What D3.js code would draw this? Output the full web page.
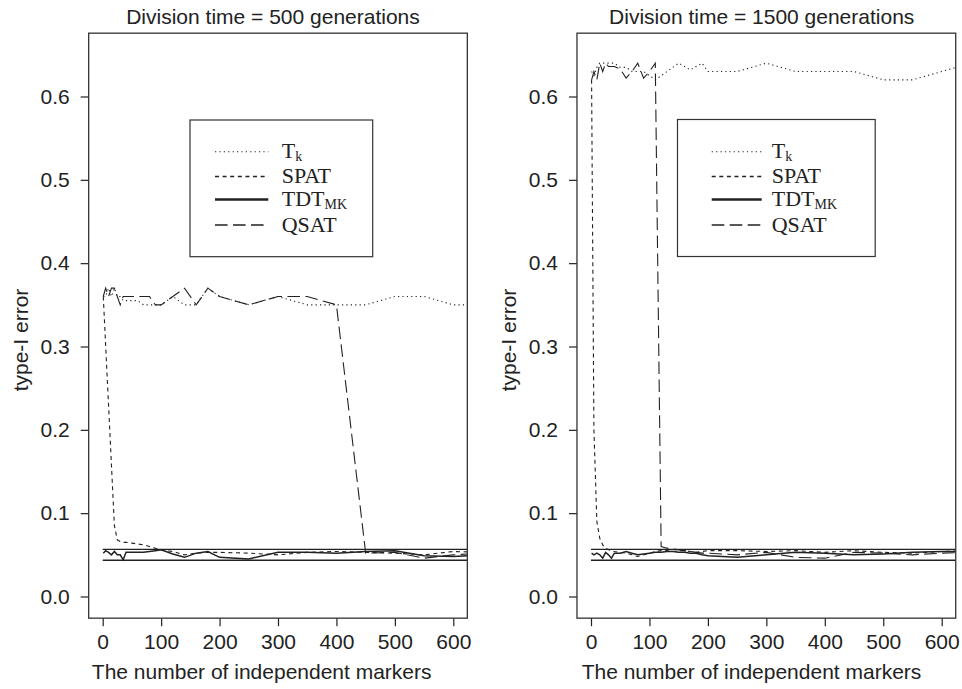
<!DOCTYPE html>
<html>
<head>
<meta charset="utf-8">
<script src="https://cdn.jsdelivr.net/npm/d3@7"></script>
<style>
  html, body { margin: 0; padding: 0; background: #fff; }
  svg { display: block; }
</style>
</head>
<body>
<div id="chart"></div>
<script>
// ---------------- DATA ----------------
const xTicks = [0, 100, 200, 300, 400, 500, 600];
const yTicks = [0.0, 0.1, 0.2, 0.3, 0.4, 0.5, 0.6];
const bandLines = [0.0435, 0.0565];
const seriesNames = ["T", "SPAT", "TDT", "QSAT"];
const seriesSubs = ["k", "", "MK", ""];

// Left panel: division time = 500 generations
const xLeft = [1, 5, 10, 15, 20, 25, 30, 35, 40, 50, 60, 70, 80, 90, 100, 120, 140, 160, 180, 200, 250, 300, 350, 400, 450, 500, 550, 600, 650];
const tkLeft   = [0.36, 0.36, 0.37, 0.36, 0.37, 0.36, 0.36, 0.355, 0.355, 0.355, 0.355, 0.35, 0.35, 0.35, 0.35, 0.36, 0.35, 0.35, 0.37, 0.36, 0.35, 0.36, 0.35, 0.35, 0.35, 0.36, 0.36, 0.35, 0.35];
const spatLeft = [0.36, null, null, null, 0.085, 0.068, 0.066, 0.065, 0.065, 0.064, 0.063, 0.062, 0.06, 0.058, 0.056, 0.054, 0.05, 0.052, 0.053, 0.053, 0.052, 0.05, 0.053, 0.054, 0.053, 0.052, 0.05, 0.054, 0.053];
const tdtLeft  = [0.052, 0.055, 0.053, 0.05, 0.054, 0.05, 0.05, 0.044, 0.053, 0.053, 0.053, 0.053, 0.054, 0.055, 0.056, 0.051, 0.047, 0.052, 0.054, 0.047, 0.045, 0.053, 0.053, 0.052, 0.054, 0.055, 0.049, 0.048, 0.05];
const qsatLeft = [0.36, 0.37, 0.36, 0.37, 0.37, 0.36, 0.35, 0.36, 0.36, 0.36, 0.36, 0.36, 0.36, 0.35, 0.35, 0.36, 0.37, 0.35, 0.37, 0.36, 0.35, 0.36, 0.36, 0.35, 0.052, 0.053, 0.046, 0.05, 0.052];

// Right panel: division time = 1500 generations
const xRight = [1, 5, 10, 15, 20, 25, 30, 35, 40, 50, 60, 70, 80, 90, 100, 110, 120, 130, 140, 150, 160, 170, 180, 190, 200, 250, 300, 350, 400, 450, 500, 550, 600, 650];
const tkRight   = [0.63, 0.625, 0.635, 0.64, 0.64, 0.64, 0.64, 0.64, 0.64, 0.635, 0.635, 0.63, 0.63, 0.63, 0.625, 0.62, null, null, null, 0.64, null, 0.632, null, 0.64, 0.63, 0.63, 0.64, 0.63, 0.63, 0.63, 0.62, 0.62, 0.63, 0.64];
const spatRight = [0.62, 0.2, 0.09, 0.07, 0.062, 0.058, 0.056, 0.055, 0.054, 0.053, 0.052, 0.05, 0.048, 0.05, 0.052, 0.054, 0.055, 0.055, 0.054, 0.055, 0.055, 0.054, 0.053, 0.054, 0.055, 0.055, 0.054, 0.055, 0.053, 0.055, 0.053, 0.052, 0.054, 0.055];
const tdtRight  = [0.052, 0.05, 0.052, 0.05, 0.046, 0.053, 0.05, 0.046, 0.052, 0.052, 0.054, 0.052, 0.05, 0.051, 0.052, 0.053, 0.053, 0.054, 0.054, 0.053, 0.053, 0.052, 0.052, 0.05, 0.049, 0.047, 0.05, 0.053, 0.052, 0.05, 0.051, 0.053, 0.054, 0.054];
const qsatRight = [0.62, 0.63, 0.62, 0.64, 0.63, 0.64, 0.636, 0.636, 0.636, 0.633, 0.622, 0.63, 0.64, 0.622, 0.63, 0.64, 0.06, 0.058, 0.057, 0.056, 0.055, 0.054, 0.053, 0.052, 0.052, 0.05, 0.053, 0.047, 0.046, 0.053, 0.052, 0.05, 0.052, 0.053];

// ---------------- LAYOUT / STYLE ----------------
const W = 962, H = 689;
const SANS = "'Liberation Sans', Arial, Helvetica, sans-serif";
const SERIF = "'Liberation Serif', 'Times New Roman', serif";
const INK = "#222";

const styles = [
  { dash: "1.2,3.2", width: 1.1, legendWidth: 1.1 },   // T_k dotted
  { dash: "4,3.6",   width: 1.1, legendWidth: 1.3 },   // SPAT short dash
  { dash: null,      width: 1.5, legendWidth: 2.4 },   // TDT solid
  { dash: "12.6,5.4", width: 1.1, legendWidth: 1.3 }   // QSAT long dash
];

const panels = [
  {
    title: "Division time = 500 generations",
    xs: xLeft, series: [tkLeft, spatLeft, tdtLeft, qsatLeft],
    x0: 102.7, x600: 453.3, titleX: 273, xlabX: 261.7, ylabX: 28,
    legend: { x: 190, y: 120, w: 182.7, h: 136.7, l0: 215, l1: 268.3, tx: 281.7 }
  },
  {
    title: "Division time = 1500 generations",
    xs: xRight, series: [tkRight, spatRight, tdtRight, qsatRight],
    x0: 591, x600: 941.7, titleX: 761.7, xlabX: 751.5, ylabX: 516,
    legend: { x: 677.5, y: 119.5, w: 197.7, h: 137, l0: 711.7, l1: 761.7, tx: 771.7 }
  }
];
const legendRows = [151.7, 176.5, 199.5, 225];

const svg = d3.select("#chart").append("svg")
  .attr("width", W).attr("height", H)
  .attr("viewBox", `0 0 ${W} ${H}`);
svg.append("rect").attr("width", W).attr("height", H).attr("fill", "#fff");

const y = d3.scaleLinear().domain([0, 0.6]).range([596.5, 96.5]);

panels.forEach((p, pi) => {
  const x = d3.scaleLinear().domain([0, 600]).range([p.x0, p.x600]);
  const bx0 = x(-24), bx1 = x(624), by0 = y(0.676), by1 = y(-0.026);
  const g = svg.append("g");

  const clipId = "clip" + pi;
  svg.append("defs").append("clipPath").attr("id", clipId)
    .append("rect").attr("x", bx0).attr("y", by0).attr("width", bx1 - bx0).attr("height", by1 - by0);

  g.append("text").attr("x", p.titleX).attr("y", 23.5)
    .attr("text-anchor", "middle").attr("font-family", SANS).attr("font-size", 21)
    .attr("fill", INK).text(p.title);

  const ya = g.append("g").attr("transform", `translate(${bx0},0)`)
    .call(d3.axisLeft(y).tickValues(yTicks).tickFormat(d3.format(".1f")).tickSize(8).tickPadding(11));
  ya.select(".domain").remove();
  ya.selectAll("line").attr("stroke", INK).attr("stroke-width", 1.2);
  ya.selectAll("text").attr("font-family", SANS).attr("font-size", 21).attr("fill", INK);

  const xa = g.append("g").attr("transform", `translate(0,${by1})`)
    .call(d3.axisBottom(x).tickValues(xTicks).tickFormat(d3.format("d")).tickSize(8).tickPadding(7.6));
  xa.select(".domain").remove();
  xa.selectAll("line").attr("stroke", INK).attr("stroke-width", 1.2);
  xa.selectAll("text").attr("font-family", SANS).attr("font-size", 21).attr("fill", INK);

  g.append("text").attr("x", p.xlabX).attr("y", 679.3)
    .attr("text-anchor", "middle").attr("font-family", SANS).attr("font-size", 21)
    .attr("fill", INK).text("The number of independent markers");
  g.append("text").attr("transform", `translate(${p.ylabX},340) rotate(-90)`)
    .attr("text-anchor", "middle").attr("font-family", SANS).attr("font-size", 21)
    .attr("fill", INK).text("type-I error");

  const plot = g.append("g").attr("clip-path", `url(#${clipId})`);

  bandLines.forEach(v => {
    plot.append("line").attr("x1", x(0)).attr("x2", x(650))
      .attr("y1", y(v)).attr("y2", y(v))
      .attr("stroke", INK).attr("stroke-width", 1.3);
  });

  const line = d3.line().x(d => x(d[0])).y(d => y(d[1]));
  p.series.forEach((vals, si) => {
    const pts = p.xs.map((xv, i) => [xv, vals[i]]).filter(d => d[1] !== null);
    const path = plot.append("path").datum(pts).attr("d", line)
      .attr("fill", "none").attr("stroke", INK)
      .attr("stroke-width", styles[si].width).attr("stroke-linejoin", "miter");
    if (styles[si].dash) path.attr("stroke-dasharray", styles[si].dash);
  });

  g.append("rect").attr("x", bx0).attr("y", by0).attr("width", bx1 - bx0).attr("height", by1 - by0)
    .attr("fill", "none").attr("stroke", "#333").attr("stroke-width", 1.3);

  const L = p.legend;
  const lg = g.append("g");
  lg.append("rect").attr("x", L.x).attr("y", L.y).attr("width", L.w).attr("height", L.h)
    .attr("fill", "#fff").attr("stroke", "#333").attr("stroke-width", 1.2);
  seriesNames.forEach((nm, si) => {
    const ry = legendRows[si];
    const ln = lg.append("line").attr("x1", L.l0).attr("x2", L.l1).attr("y1", ry).attr("y2", ry)
      .attr("stroke", INK).attr("stroke-width", styles[si].legendWidth);
    if (styles[si].dash) ln.attr("stroke-dasharray", styles[si].dash);
    const t = lg.append("text").attr("x", L.tx).attr("y", ry + 6.5)
      .attr("font-family", SERIF).attr("font-size", 22).attr("fill", INK);
    t.append("tspan").text(nm);
    if (seriesSubs[si]) {
      t.append("tspan").attr("font-size", 14).attr("dy", 3).text(seriesSubs[si]);
    }
  });
});
</script>
</body>
</html>
